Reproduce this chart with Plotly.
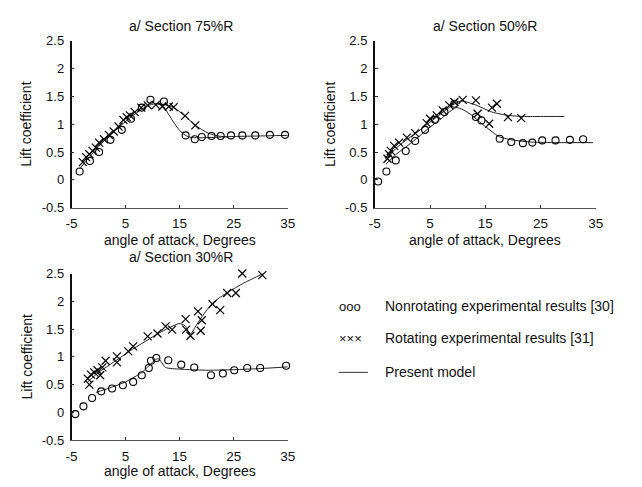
import plotly.graph_objects as go

# ---------------- Data ----------------
# Panel a/ Section 75%R
s75_nonrot_aoa = [-3.5, -1.6, 0.1, 2.2, 4.3, 6.0, 8.0, 9.6, 12.1, 16.1, 17.8, 19.1, 20.9, 22.6, 24.5, 26.6, 29.0, 31.7, 34.5]
s75_nonrot_cl = [0.15, 0.34, 0.50, 0.72, 0.90, 1.10, 1.30, 1.44, 1.41, 0.80, 0.73, 0.77, 0.79, 0.79, 0.80, 0.80, 0.80, 0.81, 0.81]
s75_rot_aoa = [-2.9, -2.3, -1.7, -1.1, -0.5, 0.1, 1.0, 1.9, 2.8, 3.7, 4.6, 5.2, 5.8, 6.7, 7.9, 9.1, 10.6, 11.8, 13.0, 13.9, 16.0, 17.9]
s75_rot_cl = [0.32, 0.41, 0.46, 0.52, 0.58, 0.67, 0.73, 0.81, 0.87, 0.96, 1.08, 1.13, 1.16, 1.22, 1.30, 1.34, 1.35, 1.32, 1.32, 1.31, 1.15, 0.98]
s75_model_nonrot_aoa = [-3.5, 0, 3, 6, 9, 10.6, 11.8, 12.7, 13.6, 14.5, 15.5, 16.5, 17.3, 20, 25, 30, 35]
s75_model_nonrot_cl = [0.20, 0.60, 0.88, 1.13, 1.33, 1.37, 1.34, 1.22, 1.08, 0.95, 0.84, 0.78, 0.76, 0.76, 0.78, 0.79, 0.80]
s75_model_rot_aoa = [10.6, 12.0, 13.9, 16.0, 17.9, 20.3, 22.1, 24.0]
s75_model_rot_cl = [1.37, 1.36, 1.30, 1.15, 0.98, 0.84, 0.79, 0.77]

# Panel a/ Section 50%R
s50_nonrot_aoa = [-4.4, -2.9, -1.2, 0.6, 2.3, 4.1, 5.9, 7.6, 9.4, 13.3, 14.3, 17.6, 19.7, 21.8, 23.5, 25.3, 27.7, 30.3, 32.7]
s50_nonrot_cl = [-0.03, 0.15, 0.35, 0.52, 0.70, 0.90, 1.08, 1.22, 1.37, 1.13, 1.07, 0.74, 0.68, 0.66, 0.67, 0.71, 0.71, 0.72, 0.73]
s50_rot_aoa = [-2.7, -2.4, -2.1, -1.5, -0.6, 0.8, 2.3, 4.4, 5.0, 6.2, 7.3, 8.5, 9.4, 10.9, 13.3, 13.6, 15.7, 16.2, 17.1, 19.1, 21.5]
s50_rot_cl = [0.38, 0.46, 0.52, 0.61, 0.67, 0.76, 0.84, 1.02, 1.10, 1.16, 1.25, 1.34, 1.40, 1.44, 1.43, 1.19, 1.01, 1.30, 1.37, 1.13, 1.11]
s50_model_nonrot_aoa = [-3.0, -1.0, 1.0, 3.0, 5.0, 7.0, 9.7, 11.0, 12.6, 14.0, 15.0, 16.3, 17.4, 19.7, 23.3, 28, 34.5]
s50_model_nonrot_cl = [0.28, 0.47, 0.62, 0.78, 0.95, 1.10, 1.30, 1.26, 1.16, 1.04, 0.96, 0.86, 0.78, 0.72, 0.68, 0.67, 0.67]
s50_model_rot_aoa = [-2.7, -1.0, 1.0, 3.0, 5.0, 7.0, 9.0, 10.6, 13.2, 16.2, 19.1, 22.1, 25.0, 29.3]
s50_model_rot_cl = [0.40, 0.58, 0.74, 0.88, 1.04, 1.19, 1.34, 1.42, 1.35, 1.22, 1.16, 1.14, 1.14, 1.14]

# Panel a/ Section 30%R
s30_nonrot_aoa = [-4.3, -2.8, -1.2, 0.5, 2.5, 4.5, 6.4, 8.0, 9.3, 9.7, 10.7, 12.9, 15.3, 17.7, 20.8, 23.0, 25.1, 27.5, 29.9, 34.7]
s30_nonrot_cl = [-0.03, 0.11, 0.26, 0.38, 0.43, 0.49, 0.55, 0.67, 0.80, 0.93, 0.98, 0.94, 0.86, 0.81, 0.67, 0.70, 0.76, 0.80, 0.80, 0.84]
s30_rot_aoa = [-2.0, -1.7, -1.4, -0.8, -0.2, 0.3, 0.7, 1.3, 3.4, 3.4, 5.5, 6.4, 9.1, 10.9, 12.4, 13.6, 16.1, 16.2, 17.0, 18.4, 18.9, 19.1, 21.1, 22.5, 23.8, 25.4, 26.6, 30.3]
s30_rot_cl = [0.61, 0.50, 0.68, 0.72, 0.76, 0.67, 0.81, 0.93, 0.90, 1.01, 1.10, 1.19, 1.37, 1.42, 1.55, 1.49, 1.68, 1.49, 1.38, 1.82, 1.47, 1.66, 1.95, 1.84, 2.15, 2.15, 2.50, 2.47]
s30_model_nonrot_aoa = [-0.5, 2.0, 5.0, 8.0, 11.0, 12.4, 15.0, 20.3, 25.0, 30.0, 35.0]
s30_model_nonrot_cl = [0.36, 0.44, 0.55, 0.72, 0.97, 0.81, 0.78, 0.76, 0.77, 0.79, 0.82]
s30_model_rot_aoa = [-2.0, 0.0, 3.0, 6.0, 9.0, 11.0, 13.0, 14.9, 16.0, 17.0, 17.9, 19.1, 21.2, 23.9, 26.9, 30.5]
s30_model_rot_cl = [0.55, 0.72, 0.92, 1.12, 1.30, 1.42, 1.52, 1.60, 1.56, 1.41, 1.54, 1.72, 1.98, 2.16, 2.33, 2.50]

x_ticks = [-5, 5, 15, 25, 35]
y_ticks = [-0.5, 0, 0.5, 1, 1.5, 2, 2.5]
y_tick_labels = ["-0.5", "0", "0.5", "1", "1.5", "2", "2.5"]

panel_titles = ["a/ Section 75%R", "a/ Section 50%R", "a/ Section 30%R"]
x_title = "angle of attack, Degrees"
y_title = "Lift coefficient"
legend_labels = ["Nonrotating experimental results [30]",
                 "Rotating experimental results [31]",
                 "Present model"]

# ---------------- Figure ----------------
W, H = 642, 487
FONT = "Liberation Sans, Arial, sans-serif"

def px(x):
    return x / W

def py(y):
    return 1 - y / H

fig = go.Figure()

panels = [
    (s75_nonrot_aoa, s75_nonrot_cl, s75_rot_aoa, s75_rot_cl,
     s75_model_nonrot_aoa, s75_model_nonrot_cl, s75_model_rot_aoa, s75_model_rot_cl),
    (s50_nonrot_aoa, s50_nonrot_cl, s50_rot_aoa, s50_rot_cl,
     s50_model_nonrot_aoa, s50_model_nonrot_cl, s50_model_rot_aoa, s50_model_rot_cl),
    (s30_nonrot_aoa, s30_nonrot_cl, s30_rot_aoa, s30_rot_cl,
     s30_model_nonrot_aoa, s30_model_nonrot_cl, s30_model_rot_aoa, s30_model_rot_cl),
]
axis_ids = ["", "2", "3"]

for (na, nc, ra, rc, mna, mnc, mra, mrc), aid in zip(panels, axis_ids):
    xa, ya = "x" + aid, "y" + aid
    for mx, my in [(mna, mnc), (mra, mrc)]:
        fig.add_trace(go.Scatter(x=mx, y=my, mode="lines", xaxis=xa, yaxis=ya,
                                 line=dict(color="#222", width=1, shape="spline", smoothing=0.6),
                                 showlegend=False, hoverinfo="skip", cliponaxis=False))
    fig.add_trace(go.Scatter(x=na, y=nc, mode="markers", xaxis=xa, yaxis=ya, cliponaxis=False,
                             marker=dict(symbol="circle-open", size=7, color="black",
                                         line=dict(width=1.1, color="black")),
                             showlegend=False))
    fig.add_trace(go.Scatter(x=ra, y=rc, mode="markers", xaxis=xa, yaxis=ya, cliponaxis=False,
                             marker=dict(symbol="x-thin-open", size=8, color="black",
                                         line=dict(width=1.2, color="black")),
                             showlegend=False))

# axis geometry (pixels)
geo = {
    "": (67, 288, 35, 207),
    "2": (377, 603, 35, 207),
    "3": (67, 288, 275, 447),
}

layout = dict(
    width=W, height=H,
    margin=dict(l=0, r=0, t=0, b=0),
    paper_bgcolor="white", plot_bgcolor="white",
    font=dict(family=FONT, size=13, color="#111"),
    showlegend=False,
)

for aid, (x0, x1, y0, y1) in geo.items():
    layout["xaxis" + aid] = dict(
        domain=[px(x0), px(x1)], anchor="y" + aid,
        range=[-5, 35], tickvals=x_ticks, ticktext=[str(v) for v in x_ticks],
        showgrid=False, zeroline=False,
        showline=True, linecolor="#555", linewidth=1.2,
        ticks="inside", ticklen=3, tickcolor="#333",
        tickfont=dict(size=13.5, family=FONT, color="#111"),
        ticklabelstandoff=3,
    )
    layout["yaxis" + aid] = dict(
        domain=[py(y1), py(y0)], anchor="x" + aid,
        range=[-0.5, 2.5], tickvals=y_ticks, ticktext=y_tick_labels,
        showgrid=False, zeroline=False,
        showline=True, linecolor="#111", linewidth=1.6,
        ticks="inside", ticklen=3, tickcolor="#333",
        tickfont=dict(size=13, family=FONT, color="#111"),
        ticklabelstandoff=3,
    )

fig.update_layout(**layout)

annotations = []
for title, (cx, cy) in zip(panel_titles, [(179, 20), (490, 20), (179, 258)]):
    annotations.append(dict(text=title, x=px(cx), y=py(cy), xref="paper", yref="paper",
                            showarrow=False, xanchor="center", yanchor="middle",
                            font=dict(size=14, family=FONT, color="#111")))
for (cx, cy) in [(178, 240), (490, 240), (178, 479)]:
    annotations.append(dict(text=x_title, x=px(cx), y=py(cy), xref="paper", yref="paper",
                            showarrow=False, xanchor="center", yanchor="middle",
                            font=dict(size=14, family=FONT, color="#111")))
for (cx, cy) in [(21, 121), (331, 121), (21, 361)]:
    annotations.append(dict(text=y_title, x=px(cx), y=py(cy), xref="paper", yref="paper",
                            showarrow=False, xanchor="center", yanchor="middle", textangle=-90,
                            font=dict(size=14, family=FONT, color="#111")))
annotations.append(dict(text="ooo", x=px(352), y=py(309), xref="paper", yref="paper",
                        showarrow=False, xanchor="center", yanchor="middle",
                        font=dict(size=13, family=FONT, color="#111")))
annotations.append(dict(text="×××", x=px(352), y=py(342), xref="paper", yref="paper",
                        showarrow=False, xanchor="center", yanchor="middle",
                        font=dict(size=13, family=FONT, color="#111")))
for lab, cy in zip(legend_labels, [309, 342, 377]):
    annotations.append(dict(text=lab, x=px(385), y=py(cy), xref="paper", yref="paper",
                            showarrow=False, xanchor="left", yanchor="middle",
                            font=dict(size=14, family=FONT, color="#111")))

fig.update_layout(annotations=annotations,
                  shapes=[dict(type="line", xref="paper", yref="paper",
                               x0=px(340), x1=px(370), y0=py(377), y1=py(377),
                               line=dict(color="#333", width=1))])

fig.write_html("out.html")
